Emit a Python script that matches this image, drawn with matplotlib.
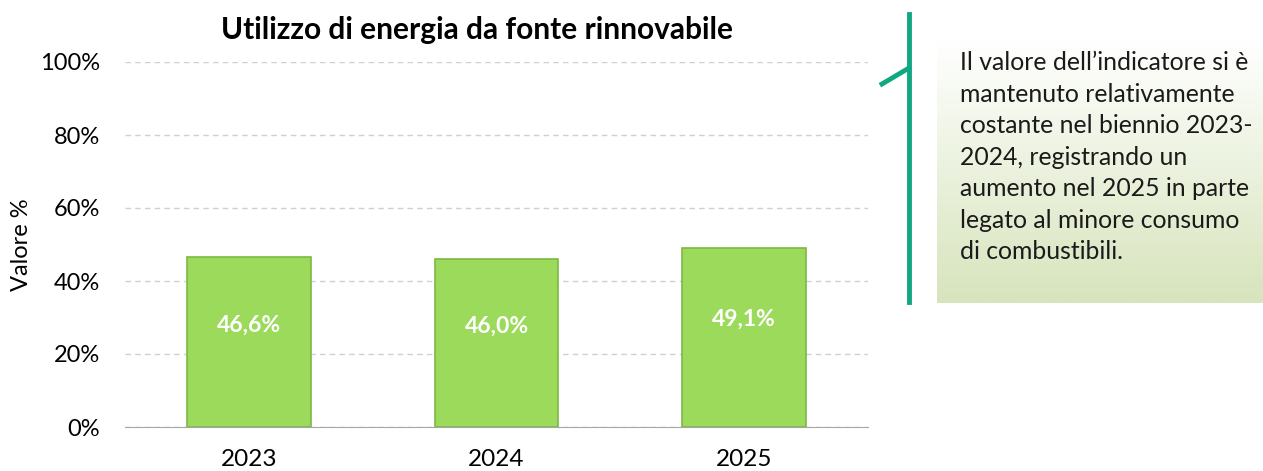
import numpy as np
import matplotlib.pyplot as plt
from matplotlib.lines import Line2D

anni = ['2023', '2024', '2025']
valori = [46.6, 46.0, 49.1]
etichette = ['46,6%', '46,0%', '49,1%']
yticks = [0, 20, 40, 60, 80, 100]
ytick_labels = ['0%', '20%', '40%', '60%', '80%', '100%']

titolo = 'Utilizzo di energia da fonte rinnovabile'
commento = ("Il valore dell\u2019indicatore si è\n"
            "mantenuto relativamente\n"
            "costante nel biennio 2023-\n"
            "2024, registrando un\n"
            "aumento nel 2025 in parte\n"
            "legato al minore consumo\n"
            "di combustibili.")

plt.rcParams['font.family'] = ['Lato', 'DejaVu Sans']

fig = plt.figure(figsize=(12.63, 4.71), dpi=100)
ax = fig.add_axes([125 / 1263, 1 - 427 / 471, 743 / 1263, 365 / 471])

x = np.arange(len(anni))
ax.bar(x, valori, width=0.5, color='#9BDA5A', edgecolor='#7DB944', linewidth=1.2, zorder=3)
for xi, v, lab in zip(x, valori, etichette):
    ax.text(xi, v * 0.6, lab, ha='center', va='center', color='white',
            fontsize=16.5, fontweight='bold', zorder=4)

ax.set_xlim(-0.5, 2.5)
ax.set_ylim(0, 100)
ax.set_xticks(x)
ax.set_xticklabels(anni, fontsize=17.5)
ax.set_yticks(yticks)
ax.set_yticklabels(ytick_labels, fontsize=17)
ax.tick_params(axis='x', length=0, pad=16)
ax.tick_params(axis='y', length=0, pad=18)
ax.grid(axis='y', linestyle=(0, (4, 3)), color='#D0D0D0', linewidth=1, zorder=0)
for s in ['top', 'right', 'left']:
    ax.spines[s].set_visible(False)
ax.spines['bottom'].set_color('#A6A6A6')
ax.set_ylabel('Valore %', fontsize=17, labelpad=6)

fig.text(477 / 1263, 1 - 30 / 471, titolo, ha='center', va='center',
         fontsize=21.5, fontweight='bold')

# riquadro di commento con sfumatura
box = fig.add_axes([937 / 1263, 1 - 303 / 471, 326 / 1263, 263 / 471])
grad = np.linspace(0, 1, 256)[:, None]
c_top = np.array([1.0, 1.0, 1.0])
c_bot = np.array([0xD7, 0xE4, 0xBC]) / 255
img = c_top[None, None, :] * (1 - grad[:, :, None]) + c_bot[None, None, :] * grad[:, :, None]
box.imshow(img, aspect='auto', extent=[0, 1, 0, 1])
box.axis('off')

fig.text(960 / 1263, 1 - 51 / 471, commento, ha='left', va='top',
         fontsize=17.8, linespacing=1.45, color='#1A1A1A')

fig.add_artist(Line2D([909 / 1263, 909 / 1263], [1 - 14 / 471, 1 - 302 / 471],
                      color='#10A883', linewidth=3.5, transform=fig.transFigure))
fig.add_artist(Line2D([882 / 1263, 909 / 1263], [1 - 84 / 471, 1 - 68 / 471],
                      color='#10A883', linewidth=3.5, transform=fig.transFigure))

plt.savefig('out.png', dpi=100)
